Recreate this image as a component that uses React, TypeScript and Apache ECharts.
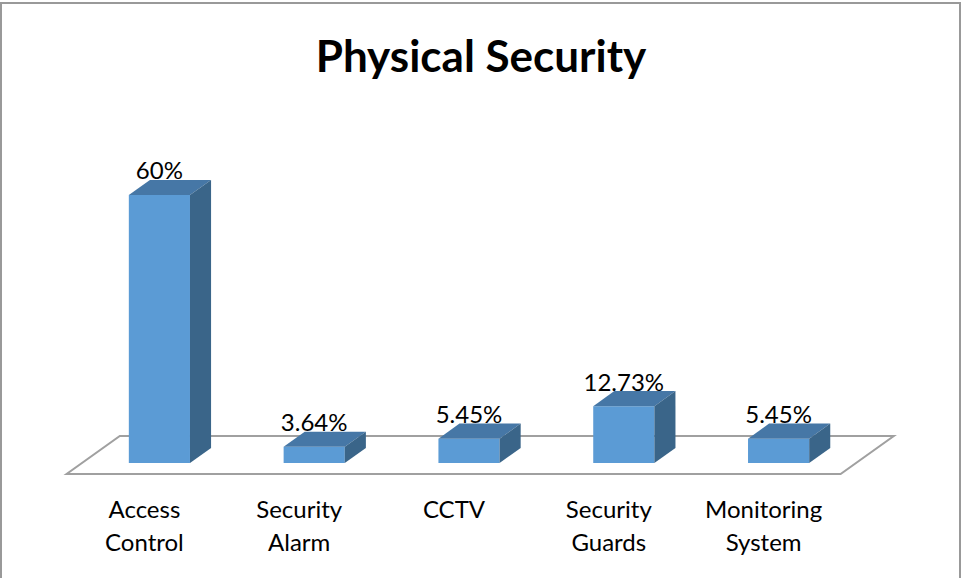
import React, { useEffect, useRef } from "react";
import * as echarts from "echarts";

const categories = ["Access Control", "Security Alarm", "CCTV", "Security Guards", "Monitoring System"];
const values = [60, 3.64, 5.45, 12.73, 5.45];
const valueLabels = ["60%", "3.64%", "5.45%", "12.73%", "5.45%"];
const titleText = "Physical Security";

const FONT = "Lato, 'Open Sans', sans-serif";
const FRONT = "#5b9bd5";
const TOP = "#4677a6";
const SIDE = "#3a6589";

export default function App() {
  const ref = useRef<HTMLDivElement>(null);
  useEffect(() => {
    if (!ref.current) return;
    const chart = echarts.init(ref.current, undefined, { renderer: "svg" });
    const option: any = {
      animation: false,
      backgroundColor: "#ffffff",
      title: {
        text: titleText,
        left: "center",
        top: 28,
        textStyle: { fontFamily: FONT, fontWeight: "bold", fontSize: 44, color: "#000" },
      },
      graphic: [
        {
          type: "rect",
          shape: { x: 1, y: 3, width: 959, height: 620 },
          style: { fill: "none", stroke: "#999999", lineWidth: 2 },
          silent: true,
        },
      ],
      grid: { left: 82, width: 774, top: 195, height: 268, containLabel: false },
      xAxis: {
        type: "category",
        data: categories,
        axisLine: { show: false },
        axisTick: { show: false },
        splitLine: { show: false },
        axisLabel: {
          interval: 0,
          margin: 29,
          fontFamily: FONT,
          fontSize: 24,
          lineHeight: 33,
          color: "#000",
          padding: [0, 30, 0, 0],
          formatter: (v: string) => v.replace(" ", "\n"),
        },
      },
      yAxis: { type: "value", min: 0, max: 60, show: false, splitLine: { show: false } },
      series: [
        {
          type: "custom",
          name: "floor",
          silent: true,
          data: [[0, 0]],
          renderItem: (params: any, api: any) => {
            const cs = params.coordSys;
            const base = api.coord([0, 0])[1];
            const k = 1.4;
            const fy = base + 11, fx = -11 * k;
            const by = base - 27, bx = 27 * k;
            return {
              type: "polygon",
              shape: {
                points: [
                  [cs.x + fx, fy],
                  [cs.x + cs.width + fx, fy],
                  [cs.x + cs.width + bx, by],
                  [cs.x + bx, by],
                ],
              },
              style: { fill: "#ffffff", stroke: "#a0a0a0", lineWidth: 2 },
            };
          },
        },
        {
          type: "custom",
          name: "bars",
          data: values.map((v, i) => [i, v]),
          renderItem: (params: any, api: any) => {
            const idx = api.value(0);
            const val = api.value(1);
            const topPt = api.coord([idx, val]);
            const basePt = api.coord([idx, 0]);
            const w = api.size([1, 0])[0] * 0.395;
            const dx = w * 0.345;
            const dy = dx / 1.4;
            const x = topPt[0] - w / 2;
            const top = topPt[1];
            const base = basePt[1];
            return {
              type: "group",
              children: [
                {
                  type: "rect",
                  shape: { x, y: top, width: w, height: base - top },
                  style: { fill: FRONT },
                },
                {
                  type: "polygon",
                  shape: {
                    points: [
                      [x, top],
                      [x + dx, top - dy],
                      [x + w + dx, top - dy],
                      [x + w, top],
                    ],
                  },
                  style: { fill: TOP },
                },
                {
                  type: "polygon",
                  shape: {
                    points: [
                      [x + w, top],
                      [x + w + dx, top - dy],
                      [x + w + dx, base - dy],
                      [x + w, base],
                    ],
                  },
                  style: { fill: SIDE },
                },
                {
                  type: "text",
                  style: {
                    text: valueLabels[params.dataIndex],
                    x: topPt[0],
                    y: top - dy - 10,
                    align: "center",
                    verticalAlign: "middle",
                    fontFamily: FONT,
                    fontSize: 24,
                    fill: "#000",
                  },
                },
              ],
            };
          },
        },
      ],
    };
    chart.setOption(option);
    return () => chart.dispose();
  }, []);
  return (
    <div
      ref={ref}
      style={{ position: "fixed", left: 0, top: 0, width: 962, height: 578, background: "#fff" }}
    />
  );
}
